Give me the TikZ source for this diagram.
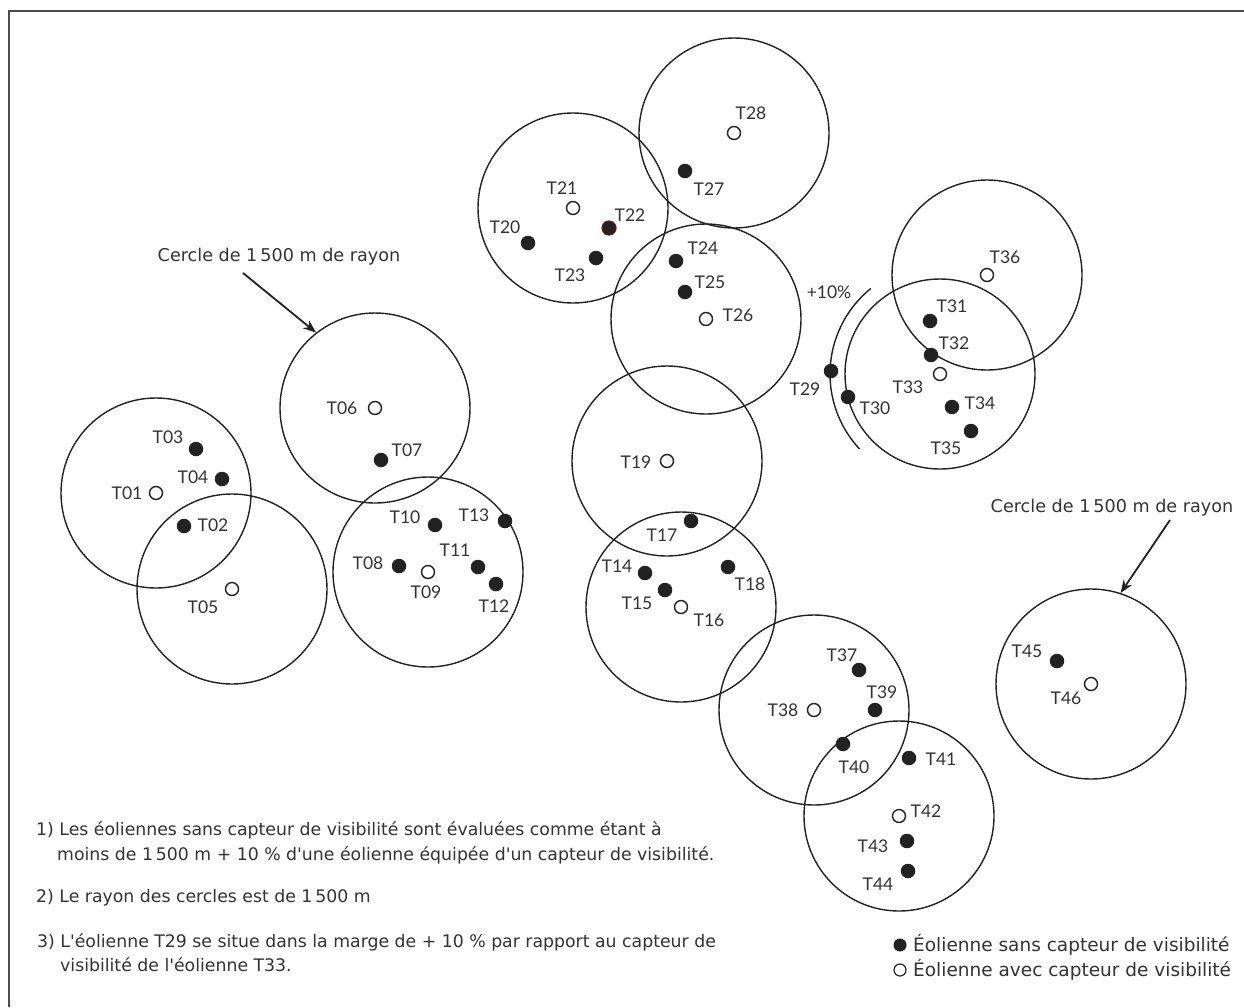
\documentclass[tikz,border=0pt]{standalone}
\usepackage{fontspec}
\setmainfont{Lato}
\newfontfamily\handfont{DejaVu Sans}
\usetikzlibrary{arrows.meta,calc}
\definecolor{ink}{HTML}{222222}
\definecolor{txt}{HTML}{333333}
\begin{document}
\begin{tikzpicture}[x=1pt,y=-1pt,
  on/.style={circle,fill=ink,inner sep=0pt,minimum size=14.5pt},
  off/.style={circle,draw=ink,line width=1.4pt,fill=white,inner sep=0pt,minimum size=13pt},
  zone/.style={circle,draw=ink,line width=1.4pt,inner sep=0pt,minimum size=190pt},
  lab/.style={font=\fontsize{17.5}{19}\selectfont,text=txt,inner sep=0pt},
  note/.style={font=\handfont\fontsize{17.3}{20}\selectfont,text=txt,inner sep=0pt,anchor=west},
  key/.style={font=\handfont\fontsize{18.5}{22}\selectfont,text=txt,inner sep=0pt,anchor=west},
  call/.style={font=\handfont\fontsize{17.6}{20}\selectfont,text=txt,inner sep=0pt},
  callout/.style={draw=ink,line width=1.8pt,-{Stealth[length=13pt,width=10pt]}}]
\useasboundingbox (0,0) rectangle (1244,1007);
\fill[white] (0,0) rectangle (1244,1007);
\draw[gray!60!black,line width=2.5pt] (9,1007) -- (9,11) -- (1244,11);
% zones (1500 m circles), centred on the turbines with visibility sensor
\foreach \n/\x/\y in {01/156/493,05/232/589,06/375/408,09/428/572,16/681/607,19/667/461,
  21/573/208,26/706/319,28/734/133,33/940/374,36/987/275,38/814/710,42/899/816,46/1091/684}
  \node[zone] (Z\n) at (\x,\y) {};
% +10% margin arc around T33
\draw[ink,line width=1.4pt] ($(Z33.center)+(-129:110)$) arc[start angle=-129,end angle=-223,radius=110];
% turbines with sensor
\foreach \n in {01,05,06,09,16,19,21,26,28,33,36,38,42,46}
  \node[off] (T\n) at (Z\n.center) {};
% turbines without sensor
\foreach \n/\x/\y in {02/184/526,03/196/449,04/222/479,07/381/460,08/399/566,10/435/525,
  11/478/567,12/496/584,13/505/521,14/645/573,15/665/590,17/691/521,18/728/567,20/528/243,
  23/596/258,24/676/261,25/685/292,27/685/171,29/831/371,30/848/397,31/930/321,
  32/931/355,34/952/407,35/971/431,37/859/670,39/875/710,40/843/744,41/909/758,
  43/907/841,44/908/871,45/1057/661}
  \node[on] (T\n) at (\x,\y) {};
\node[on,draw=red!70!black,line width=0.6pt] (T22) at (609,228) {};
% labels
\foreach \n/\x/\y in {01/127/493,02/213/525,03/168/437,04/193/477,05/203/607,06/342/408,
  07/407/450,08/368/563,09/426/592,10/405/517,11/455/550,12/494/606,13/474/515,
  14/617/566,15/637/603,16/709/620,17/662/535,18/750/584,19/636/462,20/505/227,
  21/562/188,22/630/215,23/570/275,24/703/248,25/710/282,26/738/315,27/709/189,
  28/751/113,29/805/389,30/875/408,31/952/306,32/954/343,33/908/387,34/980/403,
  35/946/448,36/1005/257,37/842/655,38/783/710,39/882/692,40/854/767,41/941/759,
  42/926/811,43/873/846,44/878/884,45/1027/651,46/1066/698}
  \node[lab] (L\n) at (\x,\y) {T\n};
\node[lab] (pct) at (829,292) {+10\%};
% callouts
\node[call] (c1) at (279,257) {Cercle de 1\,500 m de rayon};
\coordinate (c1s) at (243,273);
\draw[callout] (c1s) -- (Z06.128);
\node[call] (c2) at (1112,508) {Cercle de 1\,500 m de rayon};
\coordinate (c2s) at (1170,520);
\draw[callout] (c2s) -- (Z46.72);
% notes
\node[note] (n1a) at (36,830) {1) Les éoliennes sans capteur de visibilité sont évaluées comme étant à};
\node[note] (n1b) at (57,855) {moins de 1\,500 m + 10 \% d'une éolienne équipée d'un capteur de visibilité.};
\node[note] (n2) at (36,898) {2) Le rayon des cercles est de 1\,500 m};
\node[note] (n3a) at (37,942) {3) L'éolienne T29 se situe dans la marge de + 10 \% par rapport au capteur de};
\node[note] (n3b) at (60,965) {visibilité de l'éolienne T33.};
% legend
\node[on,minimum size=13pt] (k1) at (900,945) {};
\node[off,minimum size=12pt,line width=1.2pt] (k2) at (900,970) {};
\node[key] (k1t) at (913,945) {Éolienne sans capteur de visibilité};
\node[key] (k2t) at (913,970) {Éolienne avec capteur de visibilité};
\end{tikzpicture}
\end{document}
